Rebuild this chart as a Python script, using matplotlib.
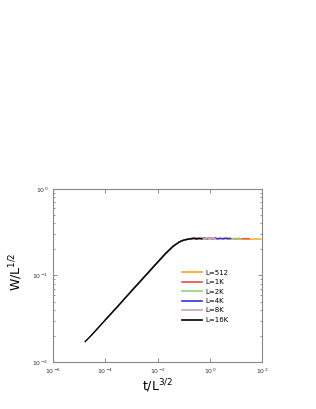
import matplotlib
matplotlib.use("Agg")
import matplotlib.pyplot as plt
from matplotlib.ticker import LogLocator, NullLocator, NullFormatter

# growth regime (shared by all system sizes)
t_growth = [1.7e-5, 3e-5, 1e-4, 3e-4, 1e-3, 3e-3, 1e-2, 2e-2, 4e-2, 7e-2, 0.1, 0.15]
W_growth = [0.0172, 0.0205, 0.0306, 0.044, 0.066, 0.095, 0.142, 0.178, 0.218, 0.245, 0.256, 0.263]

# plateau regime
t_plat = [0.2, 0.25, 0.3, 0.4, 0.5, 0.6, 0.8, 1.0, 1.3, 1.6, 2.0, 2.5, 3.2, 4.0, 5.0,
          6.3, 8.0, 10, 13, 16, 20, 25, 32, 40, 50, 63, 80, 90]
W_512 = [0.266, 0.268, 0.265, 0.269, 0.266, 0.264, 0.268, 0.266, 0.270, 0.265, 0.267, 0.264,
         0.268, 0.266, 0.263, 0.267, 0.265, 0.268, 0.264, 0.266, 0.263, 0.267, 0.264, 0.262,
         0.265, 0.263, 0.264, 0.262]
W_1K = [0.267, 0.265, 0.269, 0.266, 0.268, 0.265, 0.267, 0.270, 0.265, 0.268, 0.266, 0.269,
        0.264, 0.267, 0.270, 0.265, 0.268, 0.263, 0.269, 0.265, 0.267, 0.264, 0.266]
W_2K = [0.268, 0.266, 0.270, 0.265, 0.268, 0.266, 0.269, 0.265, 0.267, 0.270, 0.266, 0.268,
        0.265, 0.269, 0.266, 0.268, 0.265, 0.267, 0.264, 0.267]
W_4K = [0.267, 0.271, 0.265, 0.269, 0.266, 0.272, 0.265, 0.269, 0.266, 0.271, 0.265, 0.269,
        0.266, 0.270, 0.266, 0.268]
W_8K = [0.270, 0.266, 0.273, 0.267, 0.271, 0.265, 0.272, 0.266, 0.270, 0.266]
W_16K = [0.266, 0.269, 0.265, 0.268, 0.266]

# where each size's data starts (index into growth arrays)
labels = ["L=512", "L=1K", "L=2K", "L=4K", "L=8K", "L=16K"]
colors = ["#FFA31A", "#F04848", "#8CD47A", "#2F2FF0", "#C8A8A8", "#000000"]
start_idx = [5, 4, 4, 2, 1, 0]
plateaus = [W_512, W_1K, W_2K, W_4K, W_8K, W_16K]

fig = plt.figure(figsize=(3.16, 4.09), dpi=100)
ax = fig.add_axes([0.168, 0.115, 0.661, 0.423])

for lab, col, s, Wp in zip(labels, colors, start_idx, plateaus):
    t = t_growth[s:] + t_plat[:len(Wp)]
    W = W_growth[s:] + Wp
    ax.plot(t, W, color=col, lw=1.0, label=lab)

ax.set_xscale("log")
ax.set_yscale("log")
ax.set_xlim(1e-6, 1e2)
ax.set_ylim(1e-2, 1e0)
ax.xaxis.set_major_locator(LogLocator(base=100))
ax.xaxis.set_minor_locator(NullLocator())
ax.yaxis.set_major_locator(LogLocator(base=10))
ax.yaxis.set_minor_locator(LogLocator(base=10, subs=range(2, 10)))
ax.yaxis.set_minor_formatter(NullFormatter())
ax.tick_params(which="both", direction="in", top=True, right=True,
               labelsize=4.5, colors="#666666", labelcolor="#333333")
ax.tick_params(which="major", length=3, width=0.5)
ax.tick_params(which="minor", length=1.5, width=0.5)
for sp in ax.spines.values():
    sp.set_color("#888888")
    sp.set_linewidth(0.8)

ax.set_xlabel(r"t/L$^{3/2}$", fontsize=9, labelpad=1)
ax.set_ylabel(r"W/L$^{1/2}$", fontsize=9)
ax.yaxis.set_label_coords(-0.134, 0.52)

leg = ax.legend(loc="upper left", bbox_to_anchor=(0.605, 0.55), frameon=False,
                fontsize=5, handlelength=2.8, handletextpad=0.5, labelspacing=0.5,
                borderaxespad=0)
for line in leg.get_lines():
    line.set_linewidth(1.2)

fig.savefig("out.png", dpi=100)
